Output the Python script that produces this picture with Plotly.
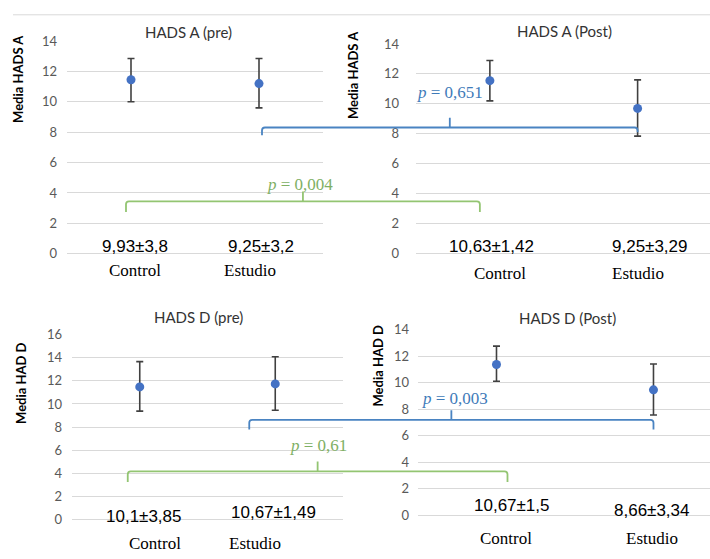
import plotly.graph_objects as go

# ---------------- data ----------------
categories = ["Control", "Estudio"]

panel_titles = ["HADS A (pre)", "HADS A (Post)", "HADS D (pre)", "HADS D (Post)"]
y_titles = ["Media HADS A", "Media HADS A", "Media HAD D", "Media HAD D"]
y_max = [14, 14, 16, 14]

means_a_pre = [11.45, 11.2]
means_a_post = [11.55, 9.7]
means_d_pre = [11.47, 11.73]
means_d_post = [11.36, 9.45]

err_plus_a_pre = [1.4, 1.65]
err_minus_a_pre = [1.45, 1.6]
err_plus_a_post = [1.35, 1.9]
err_minus_a_post = [1.35, 1.85]
err_plus_d_pre = [2.18, 2.34]
err_minus_d_pre = [2.09, 2.27]
err_plus_d_post = [1.39, 1.95]
err_minus_d_post = [1.26, 1.9]

stats_a_pre = ["9,93±3,8", "9,25±3,2"]
stats_a_post = ["10,63±1,42", "9,25±3,29"]
stats_d_pre = ["10,1±3,85", "10,67±1,49"]
stats_d_post = ["10,67±1,5", "8,66±3,34"]

# comparisons between pre (left) and post (right) panels
comp_left_panel = [0, 0, 2, 2]
comp_right_panel = [1, 1, 3, 3]
comp_category = [1, 0, 0, 1]
comp_level = [8.31, 3.45, 4.19, 8.63]   # in units of the left panel's y axis
comp_p = ["0,651", "0,004", "0,61", "0,003"]

means = [means_a_pre, means_a_post, means_d_pre, means_d_post]
err_plus = [err_plus_a_pre, err_plus_a_post, err_plus_d_pre, err_plus_d_post]
err_minus = [err_minus_a_pre, err_minus_a_post, err_minus_d_pre, err_minus_d_post]
stats = [stats_a_pre, stats_a_post, stats_d_pre, stats_d_post]

# ---------------- layout / style ----------------
W, H = 710, 559
x_px = [(67, 323), (416, 710), (72, 343), (418, 710)]
y_px = [(253, 34), (253, 37), (527, 336), (522, 331)]   # (zero line, top line)
x_rng = [(-0.5, 1.5), (-0.5, 1.49), (-0.5, 1.5), (-0.5, 1.36)]
tick_standoff = [9, 16, 9, 8]

title_pos = [(188, 25), (564, 24), (198, 318), (567, 319)]
ytitle_pos = [(18, 73), (353, 69), (21, 386), (378, 368)]
stat_dx = [(4, 2), (2, 12), (4, -2), (16, -1)]
stat_dy = [(7, 7), (7, 7), (3, 7), (10, 5)]
cat_dx = [(4, -9), (10, 0), (15, -20), (10, -1)]
cat_dy = [17, 20, 24, 23]

comp_dx0 = [3, -5, -12, -26]
comp_dx1 = [0, -10, 11, 0]
comp_d0 = [8, 11, 11, 10]
comp_d1 = [5, 11, 11, 10]
comp_text_dy = [36, 17, 27, 22]
comp_text_dx = [0, -3, 1, 4]
comp_line_colors = ["#4a84c2", "#93c572", "#93c572", "#4a84c2"]
comp_text_colors = ["#3f7bb9", "#80b064", "#80b064", "#3f7bb9"]

SANS = "Lato, 'Open Sans', sans-serif"
ARIAL = "'Liberation Sans', Arial, sans-serif"
SERIF = "'Liberation Serif', 'Times New Roman', serif"


def px2paper_x(px):
    return px / W


def px2paper_y(py):
    return 1 - py / H


def cat_px(i, c):
    a, b = x_px[i]
    r0, r1 = x_rng[i]
    return a + (c - r0) / (r1 - r0) * (b - a)


def val_py(i, v):
    z, t = y_px[i]
    return z - v / y_max[i] * (z - t)


fig = go.Figure()
annotations = []
shapes = []

for i in range(4):
    n = "" if i == 0 else str(i + 1)
    fig.add_trace(go.Scatter(
        x=categories, y=means[i], mode="markers",
        marker=dict(color="#4472c4", size=9),
        error_y=dict(type="data", symmetric=False, array=err_plus[i],
                     arrayminus=err_minus[i], color="#404040",
                     thickness=1.6, width=3.5),
        xaxis="x" + n, yaxis="y" + n, showlegend=False, hoverinfo="skip"))
    fig.update_layout(**{
        "xaxis" + n: dict(
            domain=[px2paper_x(x_px[i][0]), px2paper_x(x_px[i][1])],
            range=list(x_rng[i]), type="category", categoryarray=categories,
            showgrid=False, zeroline=False, showline=False,
            showticklabels=False, ticks="", anchor="y" + n, fixedrange=True),
        "yaxis" + n: dict(
            domain=[px2paper_y(y_px[i][0]), px2paper_y(y_px[i][1])],
            range=[0, y_max[i]], dtick=2, tick0=0,
            showgrid=True, gridcolor="#d9d9d9", gridwidth=1,
            zeroline=True, zerolinecolor="#d9d9d9", zerolinewidth=1,
            showline=False, ticks="", ticklabelstandoff=tick_standoff[i],
            tickfont=dict(family=SANS, size=13, color="#595959"),
            anchor="x" + n, fixedrange=True),
    })
    # panel title
    annotations.append(dict(
        text=panel_titles[i], xref="paper", yref="paper",
        x=px2paper_x(title_pos[i][0]), y=px2paper_y(title_pos[i][1]),
        xanchor="center", yanchor="middle", showarrow=False,
        font=dict(family=SANS, size=15, color="#333333")))
    # y title
    annotations.append(dict(
        text="<b>" + y_titles[i] + "</b>", xref="paper", yref="paper",
        x=px2paper_x(ytitle_pos[i][0]), y=px2paper_y(ytitle_pos[i][1]),
        xanchor="center", yanchor="middle", textangle=-90, showarrow=False,
        font=dict(family=SANS, size=13, color="#000000")))
    for j, cat in enumerate(categories):
        annotations.append(dict(
            text=stats[i][j], xref="x" + n, yref="y" + n, x=cat, y=0,
            xanchor="center", yanchor="middle", showarrow=False,
            xshift=stat_dx[i][j], yshift=stat_dy[i][j],
            font=dict(family=ARIAL, size=17, color="#000000")))
        annotations.append(dict(
            text=cat, xref="x" + n, yref="y" + n + " domain", x=cat, y=0,
            xanchor="center", yanchor="middle", showarrow=False,
            xshift=cat_dx[i][j], yshift=-cat_dy[i],
            font=dict(family=SERIF, size=17, color="#000000")))

# comparison brackets
for k in range(len(comp_p)):
    L, R, c = comp_left_panel[k], comp_right_panel[k], comp_category[k]
    x0 = cat_px(L, c) + comp_dx0[k]
    x1 = cat_px(R, c) + comp_dx1[k]
    y = val_py(L, comp_level[k])
    xm = (x0 + x1) / 2
    r = 3

    def P(a, b):
        return f"{px2paper_x(a):.5f},{px2paper_y(b):.5f}"

    path = (f"M {P(x0, y + comp_d0[k])} L {P(x0, y + r)} Q {P(x0, y)} {P(x0 + r, y)} "
            f"L {P(x1 - r, y)} Q {P(x1, y)} {P(x1, y + r)} L {P(x1, y + comp_d1[k])} "
            f"M {P(xm, y)} L {P(xm, y - 10)}")
    shapes.append(dict(type="path", path=path, xref="paper", yref="paper",
                       line=dict(color=comp_line_colors[k], width=1.8)))
    annotations.append(dict(
        text="<i>p</i> = " + comp_p[k], xref="paper", yref="paper",
        x=px2paper_x(xm + comp_text_dx[k]), y=px2paper_y(y - comp_text_dy[k]),
        xanchor="center", yanchor="middle", showarrow=False,
        font=dict(family=SERIF, size=17, color=comp_text_colors[k])))

# thin border line at the top of the picture
shapes.append(dict(type="line", xref="paper", yref="paper",
                   x0=px2paper_x(13), x1=1, y0=px2paper_y(7), y1=px2paper_y(7),
                   line=dict(color="#d9d9d9", width=1)))

fig.update_layout(
    width=W, height=H, margin=dict(l=0, r=0, t=0, b=0),
    paper_bgcolor="white", plot_bgcolor="white",
    annotations=annotations, shapes=shapes, showlegend=False)

fig.write_html("out.html", config={"displayModeBar": False},
               post_script="document.body.style.margin='0';document.body.style.overflow='hidden';")
